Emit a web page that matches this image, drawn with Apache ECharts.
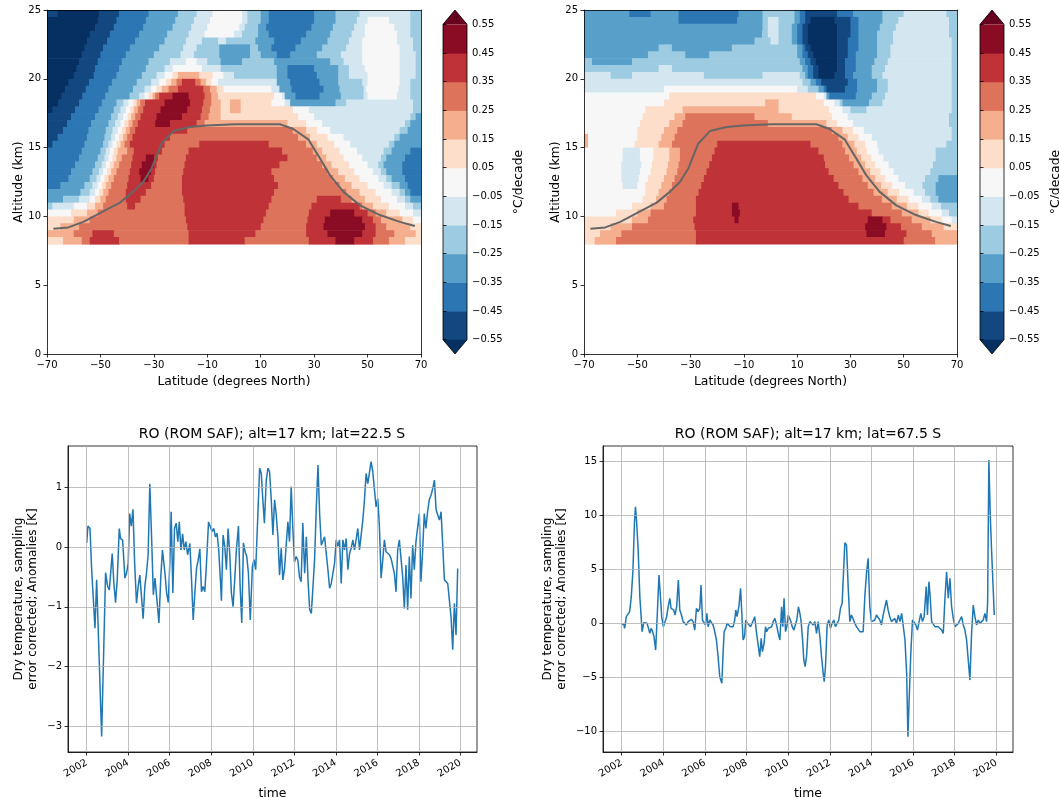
<!DOCTYPE html>
<html><head><meta charset="utf-8">
<script src="https://cdn.jsdelivr.net/npm/echarts@6/dist/echarts.min.js"></script>
<style>html,body{margin:0;padding:0;background:#fff}#c{width:1059px;height:798px}</style>
</head><body><div id="c"></div>
<script>
// ---------------- DATA ----------------
// contour levels (°C/decade) and colours (RdBu_r, extended both ends)
const levelBounds = [-0.55,-0.45,-0.35,-0.25,-0.15,-0.05,0.05,0.15,0.25,0.35,0.45,0.55];
const levelColors = ['#053061','#12487f','#2d76b4','#58a0ca','#9dcbe1','#d4e7f1','#f7f7f7','#fcdecb','#f6af8e','#de735b','#bf3237','#890b24','#67001f'];
// level codes: f=<-0.55, e=-0.5, d=-0.4, c=-0.3, b=-0.2, a=-0.1, 0=0, 1=0.1 ... 5=0.5, 6=>0.55
const levelCodes = 'fedcba0123456';
const latTicks = [-70,-50,-30,-10,10,30,50,70];
// altitude of each 0.5 km row centre (km), top to bottom
const altCenters = [24.75,24.25,23.75,23.25,22.75,22.25,21.75,21.25,20.75,20.25,19.75,19.25,18.75,18.25,17.75,17.25,16.75,16.25,15.75,15.25,14.75,14.25,13.75,13.25,12.75,12.25,11.75,11.25,10.75,10.25,9.75,9.25,8.75,8.25];
// each row: runs "<code><lat where run ends>" starting from -70
const trendLeftRows = [
"e-66 f-50.5 e-43 d-32 c-21 b-14 a-8 03 a5 b10 c13 d30 c38 b47 a66 b70",
"f-51 e-44 d-33 c-22 b-15 a-9 03 a5 b10 c13 d30 c38 b46 a50 058 a66 b70",
"f-52 e-45 d-34 c-23 b-16 a-10 02 a4 b9 c12 d29 c37 b45 a49 060 a66 b70",
"f-54 e-46.5 d-35.5 c-25 b-17 a-11 00 a3 b9 c13 d27 c36 b44 a49 061 a66 b70",
"f-55 e-47.5 d-37 c-26 b-18 a-12 b-6 a-3 b8 c15 d25 c35 b43 a48 061 a67 b70",
"f-56 e-49 d-39 c-28 b-19 a-14 b-5.5 c6 b9 c14 d23 c33 b42 a48 062 a67 b70",
"f-57 e-50 d-40.5 c-30 b-20 a-15 b-5.5 c6 b10 c16 d21 c31 b40 a48 062 a68 b70",
"f-58 e-51 d-42 c-32 b-24 a-18 0-14 a-10 b-5 c3 b15 c36 b41 a48 062 a68 b70",
"f-59 e-52 d-43 c-33 b-26 a-23 0-12 a-5 b16 c20 d30 c39 b43 a49 062 a68 b70",
"f-60 e-52.5 d-44 c-34.5 b-29 a-26 0-23 1-21 2-13 1-8 0-4 a0 b16 c20 d31 c39 b43 a50 062 a68 b70",
"f-62 e-54.3 d-45.7 c-36.4 b-31 a-28 0-25.5 1-23.5 2-21.5 3-19.5 4-14.5 3-12.5 2-10.5 1-8.5 0-6 a16 c21 d32 c39 b48 a50 062 a66 b70",
"f-63.3 e-55.5 d-47 c-37.8 b-33.5 a-31 0-29 1-27 2-24.5 3-21 4-11.5 3-9 2-6.5 1-4 014 a17 c21.5 d33.5 c39.5 b48.5 a49.5 061.5 a66 b70",
"f-64.6 e-56.8 d-48.2 c-39.1 b-35.5 a-33.5 0-32 1-30.5 2-29.5 3-28 4-23 5-17 4-11 3-8.5 2-6 115 018 a19 c23 d32 c40 b48.5 a50 061 a66 b70",
"f-65.9 e-58 d-49.5 c-44 b-41.4 a-39.5 0-37.6 1-36.4 2-35.1 3-33.3 4-26 5-16.5 4-11.5 3-8.5 2-5 1-1.5 22.5 114 019 a21 c38 b42 a67 b70",
"f-68 e-59.5 d-50.7 c-45 b-42.5 a-40.5 0-38.8 1-37.5 2-36 3-34 4-27.5 5-17.5 4-12 3-9 2-5 1-1.5 22.5 122 028 a67 b70",
"e-61 d-52 c-46 b-43.5 a-41.5 0-39.8 1-38.5 2-37 3-35 4-29 5-19.5 4-12.5 3-9.5 2-5 124 030 a66 b68 c70",
"e-62.5 d-53.5 c-47 b-44.5 a-42.5 0-41 1-39.5 2-38 3-36 4-29.5 5-24 4-14 3-11 220 127 033 a64 b66 c70",
"e-64 d-54.5 c-48 b-45.5 a-43.5 0-42 1-40.5 2-39 3-37 4-17.5 322 227 131 036 a62 b65 c70",
"e-66 d-55 c-48.5 b-46 a-44.5 0-43 1-41.5 2-40 3-38 4-24 324 228.5 135 041 a60 b62 c70",
"e-68 d-56 c-49 b-47 a-45.5 0-44 1-42.5 2-41 3-39 4-26 3-13 413 327 231 137.5 043.5 a58 b60 c70",
"d-57 c-50 b-48 a-46.5 0-45 1-43.5 2-40 3-37.5 4-27 3-17 418 329.5 233 139.5 046 a56 b59 c66 d70",
"d-58 c-51 b-48.5 a-47 0-45.5 1-44 2-42 3-38 4-33 5-30 4-28.5 3-18 420 331 234.5 141 048 a55 b57 c64 d70",
"d-59.5 c-52 b-49.5 a-48 0-46.5 1-45 2-43 3-38.5 4-34.5 5-30 4-29 3-18.5 417 333 236.5 143 050 a54 b56 c63 d70",
"d-61 c-53 b-50.5 a-49 0-47.5 1-46 2-44 3-39 4-35.5 5-31 4-29.5 3-19 414 335 239 145 052 a55 b57 c63 d70",
"d-62 c-54 b-51.5 a-50 0-48.5 1-47 2-45 3-39.5 4-35 5-32 4-30 3-19.5 415 337 241.5 147 054 a57 b59 c64 d70",
"d-65 c-56 b-53 a-51 0-49.5 1-48 2-46 3-40 4-31 3-19.5 416.5 339.5 244 150 056 a59 b62 c65 d70",
"c-57.5 b-54 a-52 0-50.5 1-49 2-47 3-40.5 4-33 3-19.5 415 342 247 153 059 a62 b64 c66 d70",
"c-64 b-58 a-54 0-52 1-50 2-48 3-40.5 4-35 3-19 414 331 440 344 249 155 061 a64 b66 c70",
"b-68 a-60 0-55 1-52 2-49 3-40 4-37 3-18.5 413 329 447 348 252 158 064 a67 b70",
"0-61 1-55 2-51 3-18.5 412 328 436 545 450 353 257 162 067 a70",
"1-60 2-54 3-18 411 327.5 434 548 452 355 263 167 070",
"1-65 2-58 3-17.5 410 327 433.5 549 453 357 266 170",
"2-60 3-53 4-45 3-17 48 327 435 548 453 360 268 170",
"1-64 2-57 3-54 4-43 3-17 44 328 438 545 452 358 264 170"
];
const trendRightRows = [
"c-53 d-45 c-34.5 d-12 c-3 b9 c11 d13 e25 d31 c42 b50 a66 b70",
"c-34.5 d-12.5 c-3 b-1 a3 b9 c11 d13 e15 f24 e30 d33 c42 b48 a67 b70",
"c-3 b-1 a3 b8 c10 d12 e14 f25 e30 d33 c41 b47 a67 b70",
"c-3.2 b-1 a3 b8 c10 d12 e14 f25 e30 d33 c40 b46 a67 b70",
"c-6 b0 a3 b8 c10 d12 e14 f25 e29 d33 c40 b46 a68 b70",
"c-42 b-37 c-14.5 b10 c12 d13 e15 f25 e29 d33 c40 b45 a68 b70",
"c-46 b-32 c-23 b10 c12 d14 e16 f25 e29 d32 c40 b45 a68 b70",
"b-67 c-52 b11 c13 d15 e17 f25 e28 d32 c39 b44 a68 b70",
"b-42 a-37 b12 c14 d16 e18 f25 e28 d32 c38 b43 a68 b70",
"a-60 b-52 a-25 b-3 a11 b13 c14 d16 e18 f24 e28 d31 c38 b42 a68 b70",
"a12 b15 c17 d19 e29 d32.5 c40 b44 a68 b70",
"a-40 010 a14 b18 c20 d21 e28 d32.5 c40 b44 a68 b70",
"0-38 117 020 a21 c22 d32 c38 b43 a68 b70",
"0-40 1-2 23 120 024 a26 b27 c37 b42 a68 b70",
"0-47 1-33 23 122 027 a30 b36 a68 b70",
"0-48 1-36 2-32 3-6 28 123 029 a67 b70",
"0-49 1-38 2-33 3-1 221 125 031 a67 b70",
"0-50 1-40 2-35 323 227 131 035 a68 b70",
"2-68.5 0-50 1-41 2-36 325.5 229 133 038 a68 b70",
"2-68.5 0-51 1-42 2-37 3-20 415 327 231.5 135.5 040 a66 b70",
"0-55.5 a-49 0-44 1-38 2-34 3-21 418 328 232.4 136.2 040.5 a62 b70",
"0-55.5 a-49 0-44 1-38 2-34 3-22 420 329.5 234 137.8 042.4 a62 b70",
"0-56 a-48.5 0-44.5 1-38.5 2-34.5 3-23 420.5 331.2 235.5 139.3 044.3 a61 b70",
"0-56 a-49 0-45 1-39 2-35 3-24 421.8 333 237.4 141.2 046.2 a60 b70",
"0-56 a-49.5 0-46 1-40 2-36 3-25 423.7 334.5 239.3 143 048 a58 b63 c70",
"0-55.5 a-50 0-47 1-41 2-37 3-26 425.5 336.5 241.5 145.5 050.5 a57 b62 c70",
"0-47 1-42 2-38 3-27 427.4 338.7 244 148.3 053.7 a58 b62 c70",
"0-48 1-43 2-39 3-28 429.3 341.8 247.4 151.8 056.8 a60 b63 c70",
"0-52 1-45 2-40 3-28 4-14.5 5-12 433 345.5 251.2 155.5 060.5 a64 b70",
"0-58 1-50 2-45 3-28 4-14.5 5-11.5 438 349.3 255.5 159.3 064.3 a67 b70",
"1-52 2-46 3-29 4-13.5 5-12 436.5 542 445 353 260 164.3 068 a70",
"1-60 2-52 3-28.5 435.5 543.5 449 356.8 265 170",
"1-64 2-56 3-28 436 543 451 360.5 270",
"1-66 2-58 3-28 450 361.8 270"
];
// tropopause (lat, km)
const tropLat = [-67.6,-62.0,-56.4,-47.7,-42.7,-37.7,-34.0,-30.8,-27.1,-22.7,-16.5,-10.2,0.4,10,17.2,22.2,27.8,31.6,35.9,40.9,47.2,54.6,62.1,67.7];
const tropAlt = [9.1,9.2,9.6,10.5,11.0,11.8,12.5,13.5,15.3,16.2,16.5,16.6,16.7,16.7,16.7,16.35,15.6,14.4,13.0,11.8,10.8,10.1,9.6,9.3];

// time series: [decimal year, anomaly K]
const anomLat225S = [
[2002.00,0.07],[2002.06,0.35],[2002.16,0.31],[2002.24,-0.38],[2002.40,-1.36],[2002.48,-0.55],[2002.72,-3.17],[2002.91,-0.43],[2003.01,-0.66],[2003.09,-0.72],[2003.15,-0.69],[2003.23,-0.11],[2003.31,-0.61],[2003.39,-0.93],[2003.47,-0.55],[2003.57,0.31],[2003.63,0.14],[2003.73,0.12],[2003.84,-0.52],[2003.92,-0.44],
[2004.00,-0.27],[2004.07,0.56],[2004.15,0.35],[2004.23,0.63],[2004.31,-0.27],[2004.40,-0.94],[2004.48,-0.66],[2004.56,-0.47],[2004.64,-0.83],[2004.72,-1.20],[2004.80,-0.66],[2004.88,-0.44],[2004.96,-0.13],[2005.04,1.06],[2005.13,0.12],[2005.21,-0.80],[2005.29,-0.52],[2005.37,-0.55],[2005.48,-1.27],[2005.57,-0.50],
[2005.65,-0.05],[2005.77,-0.44],[2005.85,-0.77],[2005.93,-0.93],[2006.01,-0.22],[2006.07,0.59],[2006.15,-0.77],[2006.23,0.31],[2006.31,0.40],[2006.39,0.09],[2006.46,0.42],[2006.54,-0.05],[2006.62,0.22],[2006.70,-0.05],[2006.78,0.09],[2006.86,-0.13],[2006.92,-0.11],[2006.97,0.06],[2007.05,-0.55],[2007.13,-1.22],
[2007.21,-0.77],[2007.29,-0.36],[2007.37,-0.22],[2007.45,-0.03],[2007.53,-0.75],[2007.61,-0.66],[2007.69,-0.75],[2007.77,-0.27],[2007.87,0.42],[2007.96,0.42],[2008.04,0.26],[2008.12,0.31],[2008.20,0.17],[2008.28,0.23],[2008.36,-0.05],[2008.44,-0.55],[2008.49,-0.90],[2008.57,0.20],[2008.65,0.01],[2008.73,-0.38],
[2008.81,0.31],[2008.89,-0.11],[2008.97,-0.77],[2009.05,-1.00],[2009.13,-0.55],[2009.21,-0.05],[2009.31,0.35],[2009.39,-0.66],[2009.47,-1.27],[2009.55,0.07],[2009.63,-0.08],[2009.71,-0.16],[2009.79,-0.44],[2009.88,-1.22],[2009.98,-0.33],[2010.06,-0.21],[2010.14,-0.38],[2010.21,0.23],[2010.29,0.95],[2010.33,1.32],
[2010.41,1.23],[2010.48,0.81],[2010.56,0.40],[2010.65,1.12],[2010.73,1.32],[2010.81,1.26],[2010.89,0.79],[2010.97,0.20],[2011.05,0.79],[2011.13,0.54],[2011.21,0.17],[2011.29,-0.47],[2011.37,-0.02],[2011.45,-0.55],[2011.53,-0.36],[2011.61,-0.33],[2011.69,0.42],[2011.77,0.09],[2011.85,1.01],[2011.93,0.31],
[2012.01,-0.25],[2012.09,-0.16],[2012.17,-0.22],[2012.25,-0.50],[2012.33,-0.58],[2012.41,0.40],[2012.50,-0.44],[2012.58,0.17],[2012.66,-0.55],[2012.74,-1.05],[2012.82,-1.11],[2012.90,-0.66],[2012.98,-0.19],[2013.06,0.67],[2013.14,1.37],[2013.22,0.56],[2013.30,0.03],[2013.38,0.06],[2013.46,0.17],[2013.54,-0.11],
[2013.62,-0.38],[2013.70,-0.69],[2013.78,-0.61],[2013.86,-0.61],[2013.94,-0.27],[2014.02,0.12],[2014.10,0.01],[2014.18,0.12],[2014.26,-0.61],[2014.34,0.12],[2014.42,-0.05],[2014.50,0.14],[2014.58,-0.38],[2014.66,-0.11],[2014.74,-0.02],[2014.82,0.12],[2014.90,-0.05],[2014.98,-0.05],[2015.06,0.31],[2015.14,-0.05],
[2015.22,0.20],[2015.30,0.45],[2015.38,0.79],[2015.46,1.23],[2015.54,1.06],[2015.62,1.09],[2015.70,1.43],[2015.78,1.26],[2015.86,1.26],[2015.94,0.67],[2016.02,0.81],[2016.10,0.34],[2016.18,-0.52],[2016.26,-0.22],[2016.34,0.12],[2016.42,-0.08],[2016.50,-0.11],[2016.58,-0.13],[2016.66,-0.19],[2016.74,-0.22],
[2016.82,-0.44],[2016.90,-0.75],[2016.98,-0.05],[2017.06,0.12],[2017.14,-0.19],[2017.22,-0.50],[2017.30,-1.03],[2017.38,-0.30],[2017.46,-1.05],[2017.54,-0.16],[2017.62,-0.86],[2017.70,0.03],[2017.78,-0.38],[2017.86,0.09],[2017.94,0.12],[2018.02,0.56],[2018.10,-0.58],[2018.18,-0.08],[2018.26,0.56],[2018.34,0.31],
[2018.42,0.59],[2018.50,0.79],[2018.59,0.87],[2018.67,0.98],[2018.75,1.12],[2018.83,0.62],[2018.91,0.59],[2018.99,0.45],[2019.07,0.59],[2019.15,0.56],[2019.23,-0.55],[2019.31,-0.58],[2019.39,-0.61],[2019.47,-0.64],[2019.55,-1.17],[2019.63,-1.72],[2019.71,-0.94],[2019.79,-1.47],[2019.87,-0.36]
];
const anomLat675S = [
[2002.00,-0.03],[2002.10,-0.06],[2002.14,-0.43],[2002.22,0.65],[2002.30,0.56],[2002.38,1.11],[2002.46,2.50],[2002.54,4.97],[2002.61,9.29],[2002.66,10.83],[2002.71,9.60],[2002.79,6.82],[2002.87,2.50],[2002.98,-0.74],[2003.06,0.09],[2003.14,0.03],[2003.22,0.03],[2003.30,-0.03],[2003.35,-0.90],[2003.41,-0.43],
[2003.47,-0.65],[2003.55,-1.20],[2003.63,-2.44],[2003.71,0.96],[2003.79,4.51],[2003.86,2.50],[2003.92,0.65],[2004.00,-0.28],[2004.08,0.19],[2004.16,0.65],[2004.23,1.57],[2004.31,2.35],[2004.37,1.42],[2004.44,1.27],[2004.50,1.27],[2004.56,0.80],[2004.64,1.57],[2004.72,4.04],[2004.79,1.27],[2004.87,0.80],
[2004.95,0.19],[2005.03,0.19],[2005.11,-0.12],[2005.19,0.19],[2005.27,0.09],[2005.35,0.40],[2005.43,0.19],[2005.51,-0.59],[2005.59,1.42],[2005.67,1.11],[2005.75,1.42],[2005.81,3.58],[2005.88,0.34],[2005.94,0.34],[2006.02,-0.12],[2006.09,0.96],[2006.15,-0.28],[2006.23,0.34],[2006.31,0.19],[2006.39,-0.12],
[2006.47,-0.74],[2006.55,-1.51],[2006.63,-3.06],[2006.71,-4.91],[2006.81,-5.52],[2006.87,-2.75],[2006.92,-0.74],[2007.00,-0.43],[2007.06,0.03],[2007.14,-0.12],[2007.22,-0.28],[2007.30,-0.43],[2007.35,-0.28],[2007.43,0.34],[2007.48,1.27],[2007.54,0.65],[2007.63,1.57],[2007.71,3.27],[2007.77,0.96],[2007.83,-1.51],
[2007.90,-1.20],[2007.96,0.34],[2008.04,0.03],[2008.12,-0.12],[2008.19,-0.28],[2008.27,-0.43],[2008.33,0.34],[2008.39,0.65],[2008.47,-0.74],[2008.55,-0.90],[2008.63,-3.06],[2008.70,-1.36],[2008.76,-2.59],[2008.84,-1.82],[2008.91,-0.28],[2008.96,-0.74],[2009.04,-0.43],[2009.12,-0.52],[2009.20,-0.28],[2009.28,0.19],
[2009.36,0.49],[2009.44,-0.12],[2009.52,-0.90],[2009.60,-1.51],[2009.68,1.57],[2009.74,-0.28],[2009.80,2.35],[2009.87,-0.74],[2009.93,-0.28],[2010.00,0.80],[2010.06,0.65],[2010.13,0.19],[2010.19,-0.28],[2010.27,-0.59],[2010.35,-0.59],[2010.41,0.34],[2010.49,1.57],[2010.56,0.96],[2010.62,0.19],[2010.69,-1.51],
[2010.75,-3.36],[2010.81,-3.98],[2010.88,-3.06],[2010.96,-0.28],[2011.04,0.19],[2011.12,0.03],[2011.20,-0.12],[2011.28,0.19],[2011.36,-0.90],[2011.44,0.19],[2011.52,-1.20],[2011.60,-3.06],[2011.68,-4.60],[2011.73,-5.37],[2011.79,-3.98],[2011.87,-0.12],[2011.95,0.34],[2012.03,-0.43],[2012.11,0.03],[2012.19,0.34],
[2012.27,-0.28],[2012.35,-0.43],[2012.43,0.34],[2012.51,1.42],[2012.59,1.88],[2012.72,7.50],[2012.80,7.28],[2012.88,3.43],[2012.96,0.19],[2013.04,0.80],[2013.12,0.65],[2013.20,0.03],[2013.28,-0.28],[2013.36,-0.43],[2013.44,-0.74],[2013.52,-0.83],[2013.60,-0.74],[2013.68,2.50],[2013.76,4.66],[2013.84,6.05],
[2013.92,1.57],[2014.00,0.19],[2014.08,0.34],[2014.16,0.34],[2014.24,0.80],[2014.32,0.80],[2014.40,0.34],[2014.48,-0.12],[2014.56,0.80],[2014.64,0.96],[2014.72,2.19],[2014.80,1.27],[2014.88,0.65],[2014.96,0.19],[2015.04,0.19],[2015.12,0.49],[2015.20,0.03],[2015.29,0.80],[2015.37,0.19],[2015.45,0.96],
[2015.53,-0.28],[2015.61,-1.51],[2015.69,-4.60],[2015.75,-10.46],[2015.81,-7.07],[2015.89,-2.75],[2015.97,0.34],[2016.05,0.19],[2016.13,-0.12],[2016.21,-0.59],[2016.29,0.19],[2016.37,0.96],[2016.45,0.19],[2016.53,0.65],[2016.63,3.43],[2016.69,0.80],[2016.76,3.89],[2016.82,2.50],[2016.89,0.19],[2016.97,0.19],
[2017.05,-0.28],[2017.13,-0.12],[2017.21,-0.28],[2017.29,-0.28],[2017.37,-0.59],[2017.45,-0.90],[2017.53,2.35],[2017.61,4.81],[2017.69,2.35],[2017.77,4.20],[2017.85,1.57],[2017.93,0.49],[2018.01,-0.28],[2018.09,-0.28],[2018.17,0.03],[2018.25,0.34],[2018.33,0.65],[2018.41,-0.12],[2018.49,-0.59],[2018.57,-1.51],
[2018.65,-1.67],[2018.73,-5.22],[2018.81,-0.90],[2018.89,1.73],[2018.97,0.65],[2019.05,-0.12],[2019.13,0.34],[2019.21,0.03],[2019.29,0.19],[2019.37,0.34],[2019.45,0.96],[2019.53,0.19],[2019.58,1.88],[2019.64,15.15],[2019.71,9.91],[2019.77,6.82],[2019.85,3.12],[2019.90,0.80]
];
const yearTicks = [2002,2004,2006,2008,2010,2012,2014,2016,2018,2020];
const ticksLeftTS = [-3,-2,-1,0,1];
const ticksRightTS = [-10,-5,0,5,10,15];

// ---------------- BUILD ----------------
const FONT = 'DejaVu Sans';
const minus = s => String(s).replace('-', '\u2212');
function colorFor(v){ let i=0; while(i<levelBounds.length && levelBounds[i]<v) i++; return levelColors[i]; }
function parseRows(rows){
  const out=[];
  rows.forEach((row,r)=>{
    const alt=altCenters[r]; let prev=latTicks[0];
    row.trim().split(/\s+/).forEach(tok=>{
      const code=tok[0], end=parseFloat(tok.slice(1));
      const v=(levelCodes.indexOf(code)-6)/10;
      if(end>prev) out.push([prev,end,alt,v]);
      prev=end;
    });
  });
  return out;
}
const halfRow = 0.25;
function heatSeries(data, xi, yi){
  return {type:'custom', xAxisIndex:xi, yAxisIndex:yi, data:data, clip:true, z:1,
    encode:{x:[0,1], y:2},
    renderItem:(p,api)=>{
      const a=api.coord([api.value(0), api.value(2)+halfRow]);
      const b=api.coord([api.value(1), api.value(2)-halfRow]);
      return {type:'rect', shape:{x:a[0], y:a[1], width:b[0]-a[0]+0.7, height:b[1]-a[1]+0.7},
        style:{fill:colorFor(api.value(3))}};
    }};
}
function tropSeries(xi, yi){
  return {type:'line', xAxisIndex:xi, yAxisIndex:yi, data:tropLat.map((l,i)=>[l,tropAlt[i]]),
    showSymbol:false, symbol:'none', lineStyle:{color:'#666666', width:2}, z:5, silent:true};
}
const cbBands = levelBounds.slice(0,-1).map((lo,i)=>[lo, levelBounds[i+1], (lo+levelBounds[i+1])/2]);
function colorbarSeries(xi, yi){
  const lo=levelBounds[0], hi=levelBounds[levelBounds.length-1];
  return [
    {type:'custom', xAxisIndex:xi, yAxisIndex:yi, data:cbBands, z:1, encode:{y:[0,1]},
      renderItem:(p,api)=>{
        const a=api.coord([0, api.value(1)]), b=api.coord([1, api.value(0)]);
        return {type:'rect', shape:{x:a[0], y:a[1], width:b[0]-a[0], height:b[1]-a[1]+0.6}, style:{fill:colorFor(api.value(2))}};
      }},
    {type:'custom', xAxisIndex:xi, yAxisIndex:yi, data:[[hi, 0.6, 1],[lo, -0.6, -1]], z:1, encode:{y:[0,1]},
      renderItem:(p,api)=>{
        const base=api.value(0), tip=api.value(1);
        return {type:'polygon', shape:{points:[api.coord([0,base]), api.coord([1,base]), api.coord([0.5,tip])]},
          style:{fill:colorFor(api.value(2))}};
      }},
    {type:'custom', xAxisIndex:xi, yAxisIndex:yi, data:[[lo,hi]], z:3, encode:{y:[0,1]},
      renderItem:(p,api)=>{
        const pts=[api.coord([0,lo]), api.coord([0.5,-0.6]), api.coord([1,lo]), api.coord([1,hi]), api.coord([0.5,0.6]), api.coord([0,hi])];
        return {type:'polygon', shape:{points:pts}, style:{fill:'none', stroke:'#000', lineWidth:0.8}};
      }}
  ];
}

const tickStyle = {show:true, length:3.5, lineStyle:{color:'#000', width:0.8}};
const lineStyleAx = {show:true, onZero:false, lineStyle:{color:'#000', width:0.8}};
const lblStyle = {color:'#000', fontFamily:FONT, fontSize:10};
const nameStyle = {color:'#000', fontFamily:FONT, fontSize:12.4};

function latAxis(gi){
  return {type:'value', gridIndex:gi, min:-70, max:70, interval:20, z:10,
    axisLine:lineStyleAx, axisTick:tickStyle, splitLine:{show:false},
    axisLabel:Object.assign({margin:6, showMinLabel:true, showMaxLabel:true, formatter:minus}, lblStyle),
    name:'Latitude (degrees North)', nameLocation:'middle', nameGap:22, nameTextStyle:nameStyle};
}
function altAxis(gi){
  return {type:'value', gridIndex:gi, min:0, max:25, interval:5, z:10,
    axisLine:lineStyleAx, axisTick:tickStyle, splitLine:{show:false},
    axisLabel:Object.assign({margin:6, showMinLabel:true, showMaxLabel:true}, lblStyle),
    name:'Altitude (km)', nameLocation:'middle', nameGap:22, nameTextStyle:nameStyle};
}
function frameAxisX(gi){ return {type:'value', gridIndex:gi, position:'top', min:-70, max:70, z:10, axisLine:lineStyleAx, axisTick:{show:false}, axisLabel:{show:false}, splitLine:{show:false}}; }
function frameAxisY(gi){ return {type:'value', gridIndex:gi, position:'right', min:0, max:25, z:10, axisLine:lineStyleAx, axisTick:{show:false}, axisLabel:{show:false}, splitLine:{show:false}}; }
function cbX(gi){ return {type:'value', gridIndex:gi, min:0, max:1, show:false}; }
function cbY(gi){
  return {type:'value', gridIndex:gi, position:'right', min:-0.6, max:0.6, z:10,
    axisLine:{show:false}, splitLine:{show:false},
    axisTick:Object.assign({customValues:levelBounds}, tickStyle),
    axisLabel:Object.assign({customValues:levelBounds, margin:5, formatter:v=>minus(v.toFixed(2))}, lblStyle),
    name:'\u00b0C/decade', nameLocation:'middle', nameGap:46, nameTextStyle:nameStyle};
}
const gridLine = {show:true, lineStyle:{color:'#b0b0b0', width:0.8}};
function timeAxis(gi){
  return {type:'value', gridIndex:gi, min:2001.1, max:2020.8, z:10,
    axisLine:lineStyleAx, splitLine:gridLine,
    axisTick:Object.assign({customValues:yearTicks}, tickStyle),
    axisLabel:Object.assign({customValues:yearTicks, rotate:30, margin:10, formatter:v=>String(Math.round(v))}, lblStyle),
    name:'time', nameLocation:'middle', nameGap:36, nameTextStyle:nameStyle};
}
function anomAxis(gi, min, max, ticks, gap){
  return {type:'value', gridIndex:gi, min:min, max:max, z:10,
    axisLine:lineStyleAx, splitLine:gridLine,
    axisTick:Object.assign({customValues:ticks}, tickStyle),
    axisLabel:Object.assign({customValues:ticks, margin:6, formatter:minus}, lblStyle),
    name:'Dry temperature, sampling\nerror corrected; Anomalies [K]', nameLocation:'middle', nameGap:gap,
    nameTextStyle:Object.assign({lineHeight:14}, nameStyle, {fontSize:12})};
}
const tsLine = {color:'#1f77b4', width:1.5};
const titleStyle = {fontFamily:FONT, fontSize:14, fontWeight:'normal', color:'#000'};
const gridBase = {outerBoundsMode:'none', containLabel:false};

const option = {
  backgroundColor:'#ffffff',
  animation:false,
  title:[
    {text:'RO (ROM SAF); alt=17 km; lat=22.5 S', left:272, top:427, textAlign:'center', padding:0, textStyle:titleStyle},
    {text:'RO (ROM SAF); alt=17 km; lat=67.5 S', left:808, top:427, textAlign:'center', padding:0, textStyle:titleStyle}
  ],
  grid:[
    Object.assign({left:47, top:10, width:374, height:344}, gridBase),
    Object.assign({left:584, top:10, width:373, height:344}, gridBase),
    Object.assign({left:443, top:10, width:24, height:344}, gridBase),
    Object.assign({left:980, top:10, width:24, height:344}, gridBase),
    Object.assign({left:68, top:446, width:409, height:306, show:true, borderColor:'#000', borderWidth:0.8}, gridBase),
    Object.assign({left:603, top:446, width:410, height:306, show:true, borderColor:'#000', borderWidth:0.8}, gridBase)
  ],
  xAxis:[latAxis(0), frameAxisX(0), latAxis(1), frameAxisX(1), cbX(2), cbX(3), timeAxis(4), timeAxis(5)],
  yAxis:[altAxis(0), frameAxisY(0), altAxis(1), frameAxisY(1), cbY(2), cbY(3),
    anomAxis(4, -3.43, 1.69, ticksLeftTS, 28), anomAxis(5, -11.88, 16.45, ticksRightTS, 34)],
  series:[
    heatSeries(parseRows(trendLeftRows), 0, 0),
    tropSeries(0, 0),
    heatSeries(parseRows(trendRightRows), 2, 2),
    tropSeries(2, 2),
    ...colorbarSeries(4, 4),
    ...colorbarSeries(5, 5),
    {type:'line', xAxisIndex:6, yAxisIndex:6, data:anomLat225S, showSymbol:false, symbol:'none', lineStyle:tsLine, z:3},
    {type:'line', xAxisIndex:7, yAxisIndex:7, data:anomLat675S, showSymbol:false, symbol:'none', lineStyle:tsLine, z:3}
  ]
};
const chart = echarts.init(document.getElementById('c'), null, {renderer:'canvas', width:1059, height:798});
chart.setOption(option);
</script></body></html>
